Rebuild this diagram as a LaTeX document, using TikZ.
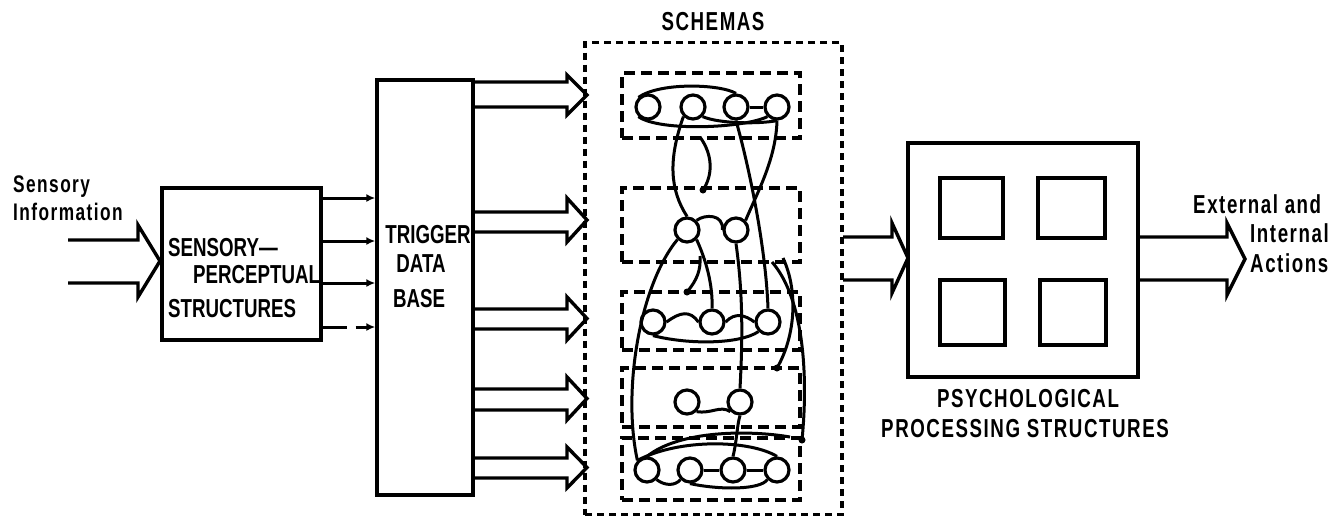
\documentclass[tikz,border=0pt]{standalone}
\usepackage{fontspec}
\setmainfont{Liberation Sans}[FakeStretch=0.72]
\newfontfamily\spaced{Liberation Sans}[FakeStretch=0.72, LetterSpace=6]
\usetikzlibrary{arrows.meta}
\newcommand\fatarrow[7]{%
  \draw[lw,line join=miter] (#1,#4) -- (#2,#4) -- (#2,#6) -- (#3,{(#6+#7)/2}) -- (#2,#7) -- (#2,#5) -- (#1,#5);}
\begin{document}
\begin{tikzpicture}[x=1pt,y=-1pt,
  lw/.style={line width=3.4pt},
  lbl/.style={font=\bfseries\fontsize{26}{26}\selectfont, inner sep=0pt},
  slbl/.style={font=\spaced\bfseries\fontsize{26}{26}\selectfont, inner sep=0pt},
  boxx/.style={draw, line width=3.4pt, inner sep=0pt},
  dbox/.style={draw, line width=3.4pt, inner sep=0pt, dash pattern=on 11pt off 6pt},
  obox/.style={draw, line width=3.4pt, inner sep=0pt, dash pattern=on 7pt off 5pt},
  sc/.style={circle, draw, line width=3.2pt, minimum size=24pt, inner sep=0pt},
  ln/.style={line width=3pt},
  sm/.style={line width=3pt, -{Latex[length=9pt,width=8pt]}}]
\useasboundingbox (0,0) rectangle (1338,517);

% texts
\node[slbl, font=\spaced\bfseries\fontsize{24}{24}\selectfont, anchor=base west] (tsens) at (13,192) {Sensory};
\node[slbl, font=\spaced\bfseries\fontsize{24}{24}\selectfont, anchor=base west] (tinfo) at (13,220) {Information};

% input arrow
\fatarrow{68}{138}{160}{240}{283}{225}{297}

% sensory-perceptual box
\node[boxx, minimum width=159pt, minimum height=152pt] (sp) at (241.5,264) {};
\node[lbl, anchor=base west] (sp1) at (168,256) {SENSORY—};
\node[lbl, anchor=base west] (sp2) at (193,283) {PERCEPTUAL};
\node[lbl, anchor=base west] (sp3) at (168,317) {STRUCTURES};

% trigger data base
\node[boxx, minimum width=96pt, minimum height=415pt] (trig) at (425,287.5) {};
\node[lbl, anchor=base] (tr1) at (428,243) {TRIGGER};
\node[lbl, anchor=base] (tr2) at (421,272) {DATA};
\node[lbl, anchor=base] (tr3) at (419,307) {BASE};

% small arrows
\draw[sm] (sp.east |- 0,198) -- (trig.west |- 0,198);
\draw[sm] (sp.east |- 0,241) -- (trig.west |- 0,241);
\draw[sm] (sp.east |- 0,283) -- (trig.west |- 0,283);
\draw[sm, dash pattern=on 24pt off 9pt] (sp.east |- 0,327) -- (trig.west |- 0,327);

% arrows to schemas
\fatarrow{473}{567}{587}{82}{107}{75}{115}
\fatarrow{473}{567}{587}{212}{232}{198}{242}
\fatarrow{473}{567}{587}{309}{329}{297}{340}
\fatarrow{473}{567}{587}{389}{410}{377}{420}
\fatarrow{473}{567}{587}{458}{478}{447}{488}

% schemas
\node[slbl, anchor=base] (tsch) at (713,30) {SCHEMAS};
\node[obox, minimum width=257pt, minimum height=472pt] (sch) at (713.5,278.5) {};
\node[dbox, minimum width=178pt, minimum height=65pt] (s1) at (711,105.5) {};
\node[dbox, minimum width=178pt, minimum height=74pt] (s2) at (711,225) {};
\node[dbox, minimum width=178pt, minimum height=58pt] (s3) at (711,321) {};
\node[dbox, minimum width=178pt, minimum height=59pt] (s4) at (711,397.5) {};
\node[dbox, minimum width=178pt, minimum height=62pt] (s5) at (711,469) {};

% circles
\node[sc] (a1) at (648,107) {};
\node[sc] (a2) at (693,107) {};
\node[sc] (a3) at (736,107) {};
\node[sc] (a4) at (777,107) {};
\node[sc] (b1) at (687,230) {};
\node[sc] (b2) at (736,230) {};
\node[sc] (c1) at (653,322) {};
\node[sc] (c2) at (712,322) {};
\node[sc] (c3) at (768,322) {};
\node[sc] (d1) at (687,402) {};
\node[sc] (d2) at (740,402) {};
\node[sc] (e1) at (647,470) {};
\node[sc] (e2) at (690,470) {};
\node[sc] (e3) at (733,470) {};
\node[sc] (e4) at (777,470) {};

% box1 curves
\draw[ln] (a1.north west) .. controls (660,82) and (720,84) .. (a3.north);
\draw[ln] (a1.south west) .. controls (660,132) and (745,128) .. (a4.south west);
\draw[ln] (a2.south east) .. controls (720,124) and (760,124) .. (a4.south);
\draw[ln] (a3.east) -- (a4.west);
% connections
\draw[ln] (a2.south west) .. controls (668,160) and (670,190) .. (b1.north);
\coordinate (bow1) at (700,137);
\coordinate (bow2) at (703,190);
\draw[ln] (bow1) .. controls (713,155) and (713,175) .. (bow2);
\fill (bow2) circle (3.5pt);
\draw[ln] (a3.south) .. controls (750,170) and (766,250) .. (c3.north);
\draw[ln] (a4.south) .. controls (776,160) and (756,195) .. (b2.north east);
\draw[ln] (b1.south west) .. controls (640,285) and (622,390) .. (e1.north west);
\draw[ln] (b1.south east) .. controls (706,260) and (713,285) .. (c2.north);
\draw[ln] (b1.north east) .. controls (705,214) and (724,214) .. (b2.west);
\draw[ln] (b2.south) .. controls (744,300) and (742,350) .. (d2.north);
\coordinate (hk1) at (700,256);
\coordinate (hk2) at (687,292);
\draw[ln] (hk1) .. controls (701,270) and (697,280) .. (hk2);
\fill (hk2) circle (3.5pt);
\coordinate (ra1) at (772,262);
\coordinate (ra2) at (802,440);
\draw[ln] (ra1) .. controls (805,300) and (808,380) .. (ra2);
\fill (ra2) circle (3.5pt);
\coordinate (rh1) at (783,258);
\coordinate (rh2) at (777,368);
\draw[ln] (rh1) .. controls (798,290) and (796,335) .. (rh2);
\fill (rh2) circle (3.5pt);
% box3
\draw[ln] (c1.east) .. controls (680,312) and (690,310) .. (c2.west);
\draw[ln] (c2.east) .. controls (735,312) and (745,315) .. (c3.west);
\draw[ln] (c1.south) .. controls (690,345) and (740,344) .. (c3.south west);
% box4
\draw[ln] (d1.south east) .. controls (712,414) and (720,405) .. (d2.south west);
\draw[ln] (d2.south) .. controls (737,425) and (737,440) .. (e3.north);
% box5
\draw[ln] (e1.north west) .. controls (680,438) and (750,440) .. (e4.north);
\coordinate (e5t) at (790,437);
\draw[ln] (e1.north) .. controls (680,430) and (750,430) .. (e5t);
\draw[ln] (e2.south) .. controls (720,490) and (760,490) .. (e4.south west);
\draw[ln] (e1.south east) .. controls (665,486) and (675,486) .. (e2.south west);
\draw[ln] (e3.east) -- (e4.west);
\draw[ln] (e2.east) -- (e3.west);

% schemas -> psych
\fatarrow{843}{892}{908}{237}{280}{223}{293}

% psych box
\node[boxx, minimum width=230pt, minimum height=234pt] (ps) at (1023,260) {};
\node[boxx, minimum width=63pt, minimum height=60pt] (q1) at (971.5,208) {};
\node[boxx, minimum width=67pt, minimum height=60pt] (q2) at (1071.5,208) {};
\node[boxx, minimum width=65pt, minimum height=65pt] (q3) at (972.5,312.5) {};
\node[boxx, minimum width=66pt, minimum height=65pt] (q4) at (1073,312.5) {};
\node[slbl, anchor=base] (tps1) at (1028,407) {PSYCHOLOGICAL};
\node[slbl, anchor=base] (tps2) at (1025,437) {PROCESSING STRUCTURES};

% output
\fatarrow{1138}{1227}{1245}{237}{280}{223}{295}
\node[slbl, anchor=base west] (to1) at (1193,213) {External and};
\node[slbl, anchor=base west] (to2) at (1250,242) {Internal};
\node[slbl, anchor=base west] (to3) at (1250,272) {Actions};
\end{tikzpicture}
\end{document}
